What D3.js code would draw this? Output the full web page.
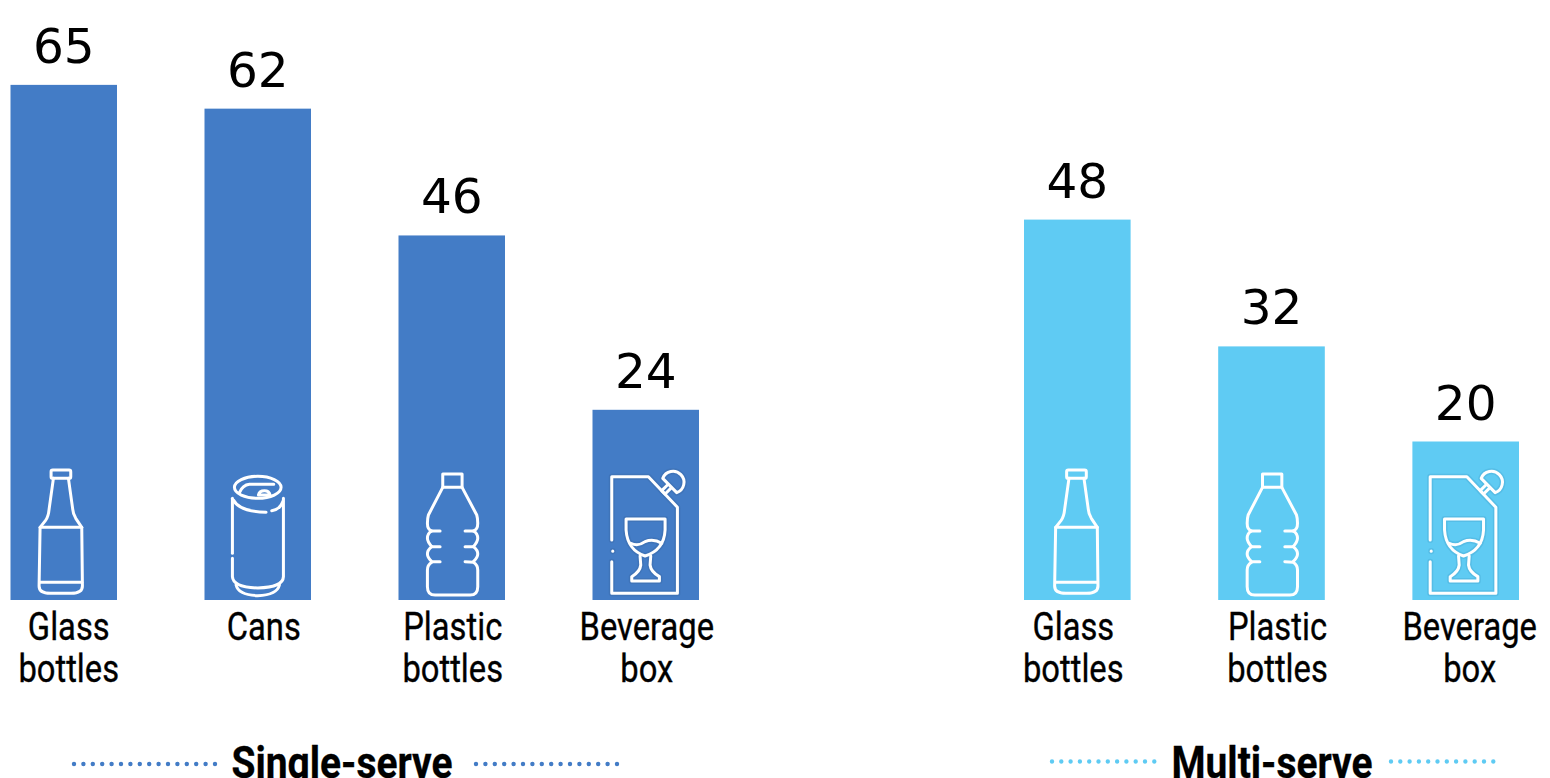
<!DOCTYPE html>
<html>
<head>
<meta charset="utf-8">
<script src="https://cdnjs.cloudflare.com/ajax/libs/d3/7.8.5/d3.min.js"></script>
<style>
  html, body { margin: 0; padding: 0; background: #fff; overflow: hidden; }
  svg { display: block; }
  .value { font-family: "DejaVu Sans", sans-serif; font-size: 48.5px; fill: #000; text-anchor: middle; }
  .cat { font-family: "Roboto", sans-serif; font-size: 38.5px; fill: #000; stroke: #000; stroke-width: 0.35px; text-anchor: middle; }
  .group { font-family: "Roboto", sans-serif; font-weight: 700; font-size: 44px; fill: #000; stroke: #000; stroke-width: 0.3px; text-anchor: middle; }
</style>
</head>
<body>
<svg id="chart" width="1550" height="778"></svg>
<script>
// Packaging categories and their values, one pair of arrays per serving type
const singleCategories = [["Glass", "bottles"], ["Cans"], ["Plastic", "bottles"], ["Beverage", "box"]];
const singleValues = [65, 62, 46, 24];
const singleIcons = ["glass", "can", "plastic", "box"];

const multiCategories = [["Glass", "bottles"], ["Plastic", "bottles"], ["Beverage", "box"]];
const multiValues = [48, 32, 20];
const multiIcons = ["glass", "plastic", "box"];

const groupTitles = ["Single-serve", "Multi-serve"];

const baseline = 600;
const svg = d3.select("#chart");

// Shared value scale: both panels sit on the same baseline
const y = d3.scaleLinear().domain([0, 65]).range([baseline, baseline - 65 * 7.925]);

// Outline icons, drawn at three units per pixel around the bar centre and baseline
const iconPaths = {
  glass: [
    "M-38,-385 Q-38,-390 -33,-390 L16,-390 Q21,-390 21,-385 L21,-370 Q21,-365 16,-365 L-33,-365 Q-38,-365 -38,-370 Z",
    "M-31,-365 L-44,-272 Q-46,-250 -55,-238 L-71,-218 L-74,-42 Q-74,-20 -40,-20 L22,-20 Q56,-20 56,-42 L54,-218 L36,-245 Q28,-258 27,-272 L14,-365",
    "M-71,-218 L54,-218", "M-71,-53 L54,-53"
  ],
  can: [
    "M-70,-338 A70,33 0 1 1 70,-338 A70,33 0 1 1 -70,-338 Z",
    "M-55,-322 Q-45,-345 -25,-347 L48,-347",
    "M2,-315 Q5,-328 20,-328 Q34,-328 37,-315 Z",
    "M-76,-305 L-76,-140", "M-76,-125 L-76,-70 Q-74,-38 0,-36 Q76,-38 77,-70 L77,-305",
    "M-65,-45 Q-58,-15 0,-13 Q58,-15 65,-45",
    "M-73,-300 Q-55,-265 25,-263", "M42,-268 Q67,-272 75,-295"
  ],
  plastic: [
    "M-27,-378 L31,-378 L31,-338 L-27,-338 Z",
    "M-27,-338 L-70,-255 Q-73,-245 -73,-230 Q-73,-210 -60,-207 L-35,-207",
    "M-35,-160 L-60,-160 Q-73,-175 -73,-185 Q-73,-200 -60,-207",
    "M-35,-115 L-60,-115 Q-73,-128 -73,-138 Q-73,-150 -60,-160",
    "M-60,-113 Q-73,-105 -73,-90 L-73,-40 Q-73,-15 -50,-15 L55,-15 Q78,-15 78,-40 L78,-90 Q78,-105 65,-113 L40,-115",
    "M40,-160 L65,-160 Q78,-150 78,-138 Q78,-128 65,-115",
    "M40,-207 L65,-207 Q78,-200 78,-185 Q78,-175 65,-160",
    "M31,-338 L75,-255 Q78,-245 78,-230 Q78,-210 65,-207"
  ],
  box: [
    "M-102,-180 L-102,-370 L8,-370 L95,-278 L95,-20 L-102,-20 L-102,-115",
    "M-99,-147 L-99,-146",
    "M51,-365 A33,33 0 1 1 93,-322 Z",
    "M65,-345 L48,-328 L58,-318 L75,-335",
    "M-59,-243 L58,-243 L58,-210 Q55,-150 -2,-132 Q-55,-150 -59,-210 Z",
    "M-45,-170 Q-22,-160 -2,-175 Q23,-185 48,-170",
    "M-17,-132 L-15,-105 Q-17,-85 -42,-70 L-42,-57 L41,-57 L41,-70 Q15,-85 13,-105 L15,-132"
  ]
};

function drawPanel(cfg) {
  const x = d3.scaleBand()
    .domain(d3.range(cfg.values.length))
    .range(cfg.range)
    .paddingInner(1 - 106.5 / 194)
    .paddingOuter(0);

  const g = svg.append("g");

  g.selectAll("rect").data(cfg.values).join("rect")
    .attr("x", (d, i) => x(i))
    .attr("y", d => y(d))
    .attr("width", x.bandwidth())
    .attr("height", d => y(0) - y(d))
    .attr("fill", cfg.color);

  g.selectAll("text.value").data(cfg.values).join("text")
    .attr("class", "value")
    .attr("x", (d, i) => x(i) + x.bandwidth() / 2)
    .attr("y", d => y(d) - 22)
    .text(d => d);

  // Roboto narrowed horizontally stands in for a condensed face
  cfg.categories.forEach((lines, i) => {
    lines.forEach((line, k) => {
      g.append("text").attr("class", "cat")
        .attr("transform", `translate(${x(i) + x.bandwidth() / 2 + cfg.labelShift[i]},${640 + k * 42}) scale(0.85,1)`)
        .text(line);
    });
  });

  // Icons
  cfg.icons.forEach((name, i) => {
    const ig = g.append("g")
      .attr("transform", `translate(${x(i) + x.bandwidth() / 2 + cfg.iconShift[i]},${baseline}) scale(${1 / 3})`)
      .attr("fill", "none")
      .attr("stroke-linecap", "round")
      .attr("stroke-linejoin", "round");
    if (name === "box") {
      // faint darker halo behind the carton outline
      ig.selectAll("path.halo").data(iconPaths[name]).join("path")
        .attr("class", "halo")
        .attr("d", d => d)
        .attr("stroke", cfg.halo)
        .attr("stroke-width", 18);
    }
    ig.selectAll("path.line").data(iconPaths[name]).join("path")
      .attr("class", "line")
      .attr("d", d => d)
      .attr("stroke", "#fff")
      .attr("stroke-width", 9);
  });

  // Group title with a dotted rule on each side
  svg.append("text").attr("class", "group")
    .attr("transform", `translate(${cfg.titleX},778) scale(0.885,1)`)
    .text(cfg.title);

  cfg.rules.forEach(([a, b]) => {
    svg.append("line")
      .attr("x1", a).attr("x2", b)
      .attr("y1", cfg.ruleY).attr("y2", cfg.ruleY)
      .attr("stroke", cfg.color)
      .attr("stroke-width", 4.4)
      .attr("stroke-linecap", "round")
      .attr("stroke-dasharray", `0 ${cfg.dotStep}`);
  });
}

drawPanel({
  categories: singleCategories, values: singleValues, icons: singleIcons,
  range: [10.5, 699], color: "#437cc6", halo: "#3f74b9",
  labelShift: [5, 6, 1, 1], iconShift: [0, 0, 0, 0],
  title: groupTitles[0], titleX: 342,
  rules: [[74, 216], [476, 618]], ruleY: 764, dotStep: 9.4
});

drawPanel({
  categories: multiCategories, values: multiValues, icons: multiIcons,
  range: [1024, 1519], color: "#5fcbf3", halo: "#55bde6",
  labelShift: [-4, 6, 4], iconShift: [2, 0, -1.5],
  title: groupTitles[1], titleX: 1272,
  rules: [[1052, 1155], [1391, 1495]], ruleY: 761.5, dotStep: 9.3
});
</script>
</body>
</html>
